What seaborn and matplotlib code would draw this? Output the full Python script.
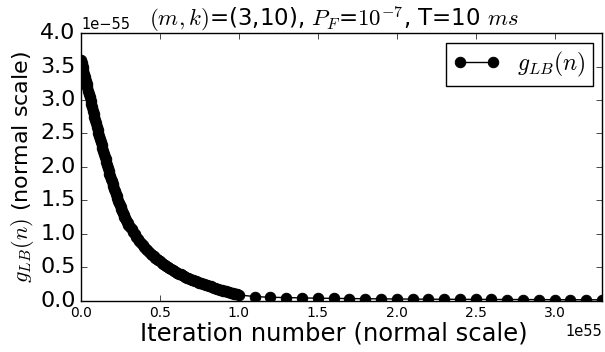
import numpy as np
import pandas as pd
import seaborn as sns
import matplotlib
matplotlib.use("Agg")
import matplotlib.pyplot as plt

# iteration number grid (units of 1e55)
x_fine = np.round(np.arange(0, 0.3001, 0.005), 3)     # 0 .. 0.30
x_mid = np.round(np.arange(0.31, 1.0001, 0.01), 2)    # 0.31 .. 1.00
x_sparse = np.round(np.arange(1.1, 3.3001, 0.1), 1)   # 1.1 .. 3.3

# g_LB(n) (units of 1e-55)
g_fine = [3.600, 3.548, 3.495, 3.443, 3.390, 3.340, 3.290, 3.240, 3.190, 3.140,
          3.090, 3.040, 2.990, 2.940, 2.890, 2.840, 2.790, 2.745, 2.700, 2.650,
          2.600, 2.555, 2.510, 2.465, 2.420, 2.375, 2.330, 2.285, 2.240, 2.195,
          2.150, 2.110, 2.070, 2.030, 1.990, 1.945, 1.900, 1.860, 1.820, 1.785,
          1.750, 1.710, 1.670, 1.635, 1.600, 1.565, 1.530, 1.495, 1.460, 1.430,
          1.400, 1.370, 1.340, 1.310, 1.280, 1.255, 1.230, 1.205, 1.180, 1.155,
          1.130]
g_mid = [1.100, 1.070, 1.030, 0.990, 0.955, 0.920, 0.890, 0.860, 0.830, 0.800,
         0.775, 0.750, 0.725, 0.700, 0.680, 0.660, 0.640, 0.620, 0.602, 0.585,
         0.567, 0.550, 0.535, 0.520, 0.505, 0.490, 0.475, 0.460, 0.445, 0.430,
         0.418, 0.405, 0.392, 0.380, 0.367, 0.355, 0.345, 0.335, 0.325, 0.315,
         0.305, 0.295, 0.287, 0.280, 0.270, 0.260, 0.252, 0.245, 0.237, 0.230,
         0.222, 0.215, 0.205, 0.195, 0.187, 0.180, 0.172, 0.165, 0.157, 0.150,
         0.145, 0.140, 0.132, 0.125, 0.117, 0.110, 0.105, 0.100, 0.092, 0.085]
g_sparse = [0.06, 0.05, 0.045, 0.04, 0.036, 0.033, 0.030, 0.028, 0.026, 0.024,
            0.022, 0.021, 0.020, 0.019, 0.018, 0.017, 0.016, 0.015, 0.015, 0.014,
            0.013, 0.013, 0.012]

df = pd.DataFrame({
    "n": np.concatenate([x_fine, x_mid, x_sparse]) * 1e55,
    "g": np.array(g_fine + g_mid + g_sparse) * 1e-55,
})

plt.style.use("classic")
fig, ax = plt.subplots(figsize=(6.05, 3.52), dpi=100)
fig.patch.set_facecolor("white")
fig.subplots_adjust(left=0.134, right=0.995, bottom=0.146, top=0.906)

sns.lineplot(data=df, x="n", y="g", ax=ax, color="k", marker="o", markersize=7.5,
             markeredgecolor="k", linewidth=1, estimator=None, sort=True,
             label=r"$g_{LB}(n)$")

ax.set_xlim(0, 3.3e55)
ax.set_ylim(0, 4.0e-55)
ax.set_title(r"$(m,k)$=(3,10), $P_F$=$10^{-7}$, T=10 $ms$", fontsize=16.5, x=0.485)
ax.set_xlabel("Iteration number (normal scale)", fontsize=17.5, labelpad=1, x=0.485)
ax.set_ylabel(r"$g_{LB}(n)$ (normal scale)", fontsize=16, labelpad=3)
ax.tick_params(axis="y", labelsize=16)
ax.tick_params(axis="x", labelsize=10)
ax.yaxis.get_offset_text().set_fontsize(10.5)
ax.xaxis.get_offset_text().set_fontsize(10.5)
ax.legend(loc="upper right", fontsize=17, numpoints=2, handlelength=2.0,
          borderpad=0.3, handletextpad=0.7, borderaxespad=0.4)

fig.savefig("out.png", dpi=100, facecolor="white")
